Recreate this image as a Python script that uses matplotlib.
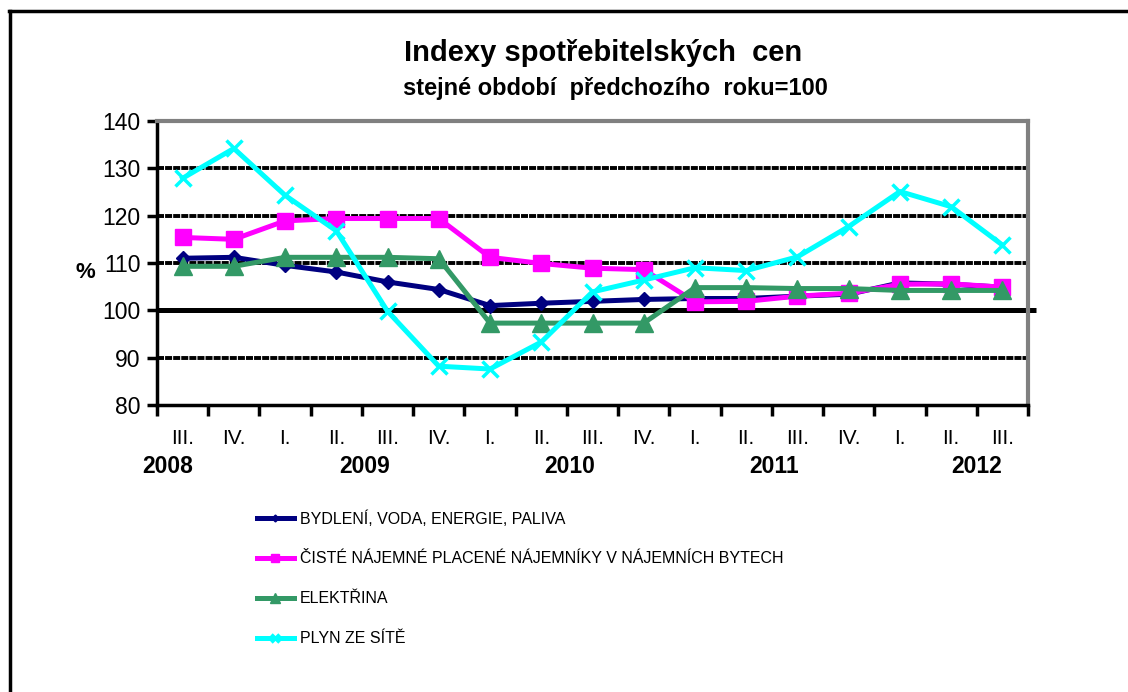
import matplotlib
matplotlib.use("Agg")
import matplotlib.pyplot as plt
from matplotlib.lines import Line2D
import numpy as np

plt.rcParams['font.family'] = ['Liberation Sans', 'DejaVu Sans']

# Quarter labels and years
quarters = ["III.", "IV.", "I.", "II.", "III.", "IV.", "I.", "II.", "III.",
            "IV.", "I.", "II.", "III.", "IV.", "I.", "II.", "III."]
years = ["2008", "2009", "2010", "2011", "2012"]
year_pos = [-0.3, 3.55, 7.55, 11.55, 15.5]

# Series values (same period of previous year = 100)
bydleni = [111.0, 111.2, 109.5, 108.1, 106.0, 104.4, 101.0, 101.5, 101.9,
           102.3, 102.5, 102.5, 103.0, 103.4, 105.8, 105.5, 104.9]
najemne = [115.4, 115.0, 118.9, 119.4, 119.4, 119.4, 111.2, 109.9, 108.9,
           108.6, 101.8, 101.9, 103.0, 103.6, 105.5, 105.6, 104.9]
elektrina = [109.3, 109.3, 111.2, 111.2, 111.2, 110.9, 97.3, 97.3, 97.3,
             97.3, 104.8, 104.8, 104.6, 104.6, 104.2, 104.2, 104.2]
plyn = [127.9, 134.2, 124.3, 116.8, 99.8, 88.2, 87.6, 93.3, 103.9,
        106.4, 109.0, 108.4, 111.3, 117.7, 125.1, 121.9, 113.8]

labels = ["BYDLENÍ, VODA, ENERGIE, PALIVA",
          "ČISTÉ NÁJEMNÉ PLACENÉ NÁJEMNÍKY V NÁJEMNÍCH BYTECH",
          "ELEKTŘINA",
          "PLYN ZE SÍTĚ"]

fig = plt.figure(figsize=(11.28, 6.92), dpi=100)
ax = fig.add_axes([157 / 1128, 1 - 405 / 692, (1028 - 157) / 1128, (405 - 121) / 692])

x = np.arange(len(quarters))

# grid lines: black with tiny white breaks
for v in [90, 110, 120, 130, 140]:
    ax.plot([-0.5, 16.5], [v, v], color="black", lw=2.8, ls=(0, (1.8, 0.28)),
            zorder=1, solid_capstyle="butt", dash_capstyle="butt")
ax.plot([-0.5, 16.65], [100, 100], color="black", lw=3.6, zorder=1,
        clip_on=False, solid_capstyle="butt")

ax.plot(x, bydleni, color="#000080", lw=3.6, marker="D", ms=7, zorder=3,
        label=labels[0])
ax.plot(x, najemne, color="#FF00FF", lw=3.6, marker="s", ms=11, zorder=4,
        label=labels[1])
ax.plot(x, elektrina, color="#339966", lw=3.6, marker="^", ms=13, zorder=5,
        label=labels[2])
ax.plot(x, plyn, color="#00FFFF", lw=3.6, marker="x", ms=11, mew=2.5, zorder=6,
        label=labels[3])

ax.set_xlim(-0.5, 16.5)
ax.set_ylim(80, 140)
ax.set_yticks(range(80, 141, 10))
ax.tick_params(axis="y", labelsize=16.5, length=7, width=2.5, direction="out", pad=5)

ax.set_xticks(x)
ax.set_xticklabels(quarters, fontsize=15)
ax.tick_params(axis="x", length=0, pad=17)
ax.set_xticks(np.arange(-0.5, 17, 1), minor=True)
ax.tick_params(axis="x", which="minor", length=8, width=2.5, direction="out")

for yr, p in zip(years, year_pos):
    ax.text(p, -0.218, yr, transform=ax.get_xaxis_transform(), ha="center",
            va="center", fontsize=16.5, fontweight="bold")

ax.spines["left"].set_linewidth(2.5)
ax.spines["bottom"].set_linewidth(2.5)
ax.spines["top"].set_color("#808080")
ax.spines["top"].set_linewidth(3)
ax.spines["right"].set_color("#808080")
ax.spines["right"].set_linewidth(3)

fig.text(85 / 1128, 1 - 273 / 692, "%", fontsize=16, fontweight="bold",
         ha="center", va="center")

fig.text(603 / 1128, 1 - 53 / 692, "Indexy spotřebitelských  cen", fontsize=21,
         fontweight="bold", ha="center", va="center")
fig.text(615 / 1128, 1 - 89 / 692, "stejné období  předchozího  roku=100",
         fontsize=17, fontweight="bold", ha="center", va="center")

leg = ax.legend(loc="upper left", bbox_to_anchor=(257 / 1128, 1 - 510 / 692),
                bbox_transform=fig.transFigure, frameon=False, fontsize=11.5,
                handlelength=2.3, handletextpad=0.4, labelspacing=1.56,
                markerscale=0.5, borderaxespad=0, borderpad=0)

# outer frame of the chart area
fig.add_artist(Line2D([10 / 1128, 10 / 1128], [0, 1 - 11 / 692],
                      transform=fig.transFigure, color="black", lw=2.5))
fig.add_artist(Line2D([9 / 1128, 1], [1 - 11 / 692, 1 - 11 / 692],
                      transform=fig.transFigure, color="black", lw=2.5))

fig.savefig("out.png", dpi=100)
